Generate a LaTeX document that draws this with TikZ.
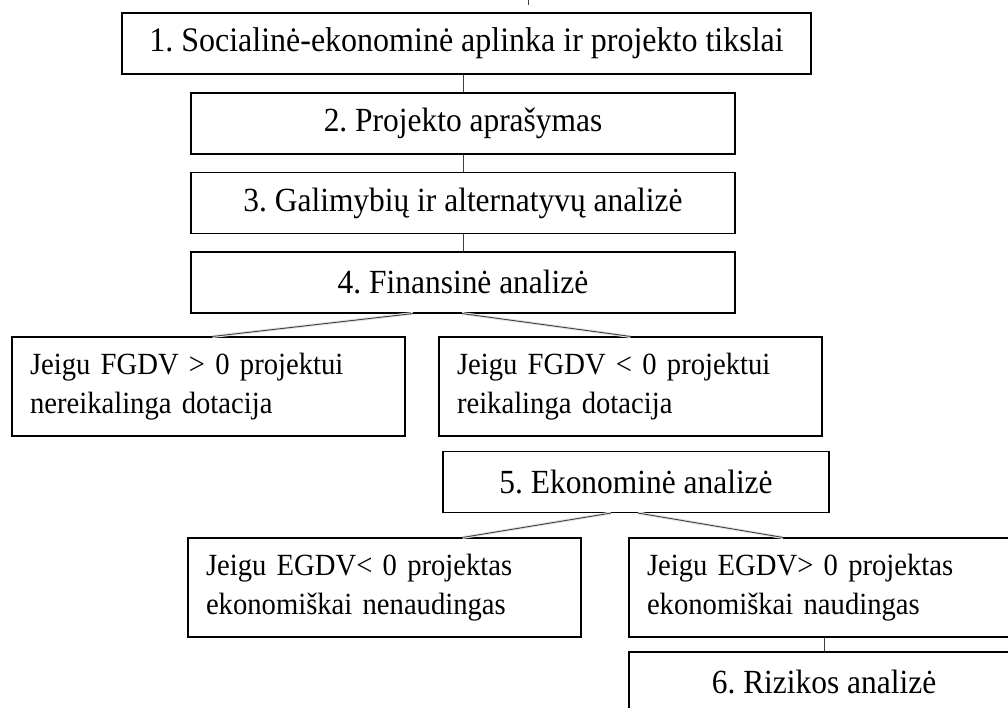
\documentclass[tikz,border=0pt]{standalone}
\usepackage{fontspec}
\setmainfont{Liberation Serif}[FakeStretch=0.93]
\usetikzlibrary{calc}
\begin{document}
\frenchspacing
\begin{tikzpicture}[x=1pt,y=-1pt,
  box/.style={draw=black,line width=1.1pt,minimum height=61pt,inner sep=0pt,
    font=\fontsize{33.8}{38}\selectfont},
  twobox/.style={draw=black,line width=1.1pt,minimum height=99pt,inner xsep=18pt,
    inner ysep=0pt,align=left,font=\fontsize{30.8}{39}\selectfont},
  link/.style={draw=black!75,line width=0.9pt},
  shade/.style={draw=black!10,line width=3pt}]
\useasboundingbox (0,0) rectangle (1008,708);
\clip (0,0) rectangle (1008,708);

\node[box,minimum width=689pt,font=\fontsize{34.4}{38}\selectfont] (B1) at (466.5,43.5) {1. Socialinė-ekonominė aplinka ir projekto tikslai};
\node[box,minimum width=544pt] (B2) at (463,123.5) {2. Projekto aprašymas};
\node[box,minimum width=544pt] (B3) at (463,203) {3. Galimybių ir alternatyvų analizė};
\node[box,minimum width=544pt] (B4) at (463,282.5) {4. Finansinė analizė};
\node[twobox,text width=357pt] (L1) at (208.5,386.5) {Jeigu FGDV > 0 projektui\\nereikalinga dotacija};
\node[twobox,text width=347pt] (R1) at (630.5,386.5) {Jeigu FGDV < 0 projektui\\reikalinga dotacija};
\node[box,minimum width=386pt] (B5) at (636,482) {5. Ekonominė analizė};
\node[twobox,text width=357pt] (L2) at (384.5,587.5) {Jeigu EGDV< 0 projektas\\ekonomiškai nenaudingas};
\node[twobox,text width=354pt] (R2) at (824,587.5) {Jeigu EGDV> 0 projektas\\ekonomiškai naudingas};
\node[box,minimum width=390pt] (B6) at (824,682.5) {6. Rizikos analizė};

\coordinate (T0) at (528,0);
\coordinate (T1) at (528,5);
\draw[link] (T0) -- (T1);

\draw[link] (B2.north |- B1.south) -- (B2.north);
\draw[link] (B2.south) -- (B3.north);
\draw[link] (B3.south) -- (B4.north);
\draw[link] (R2.south) -- (B6.north);

\begin{scope}[shift={(0,3)}]
\draw[shade] ([xshift=-50pt]B4.south) -- ([xshift=4pt]L1.north);
\draw[shade] ([xshift=-1pt]B4.south) -- (R1.north);
\draw[shade] ([xshift=-25pt]B5.south) -- ([xshift=78pt]L2.north);
\draw[shade] ([xshift=2pt]B5.south) -- ([xshift=-41pt]R2.north);
\end{scope}
\draw[link] ([xshift=-50pt]B4.south) -- ([xshift=4pt]L1.north);
\draw[link] ([xshift=-1pt]B4.south) -- (R1.north);
\draw[link] ([xshift=-25pt]B5.south) -- ([xshift=78pt]L2.north);
\draw[link] ([xshift=2pt]B5.south) -- ([xshift=-41pt]R2.north);
\end{tikzpicture}
\end{document}
